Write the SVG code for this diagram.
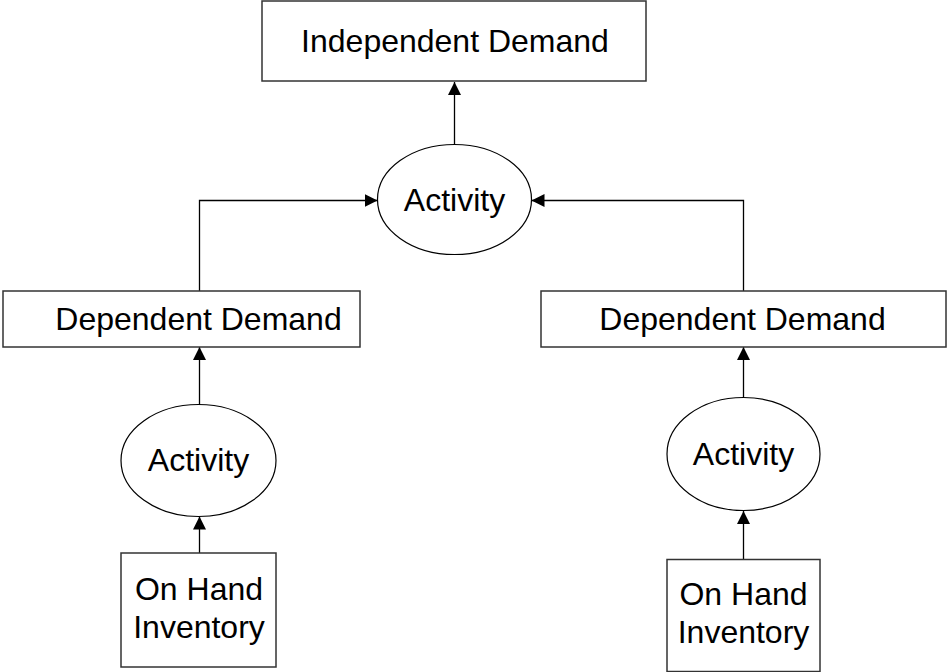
<svg xmlns="http://www.w3.org/2000/svg" width="947" height="672" viewBox="0 0 947 672">
<style>
.box{fill:#fff;stroke:#333;stroke-width:1.5}
.ell{fill:#fff;stroke:#000;stroke-width:1.2}
.lbl{font-family:"Liberation Sans",Arial,sans-serif;font-size:32px;fill:#000;text-anchor:middle}
.con{fill:none;stroke:#000;stroke-width:1.3}
</style>
<defs>
<marker id="ah" viewBox="0 0 13 13" refX="13" refY="6.5" markerWidth="13" markerHeight="13" markerUnits="userSpaceOnUse" orient="auto">
<path d="M0,0 L13,6.5 L0,13 Z" fill="#000"/>
</marker>
</defs>
<g id="connectors">
<path class="con" d="M454.5,144 L454.5,82" marker-end="url(#ah)"/>
<path class="con" d="M199.5,291 L199.5,200.5 L377.5,200.5" marker-end="url(#ah)"/>
<path class="con" d="M743.5,291 L743.5,200.5 L531.5,200.5" marker-end="url(#ah)"/>
<path class="con" d="M199.5,404 L199.5,347" marker-end="url(#ah)"/>
<path class="con" d="M199.5,553 L199.5,516.5" marker-end="url(#ah)"/>
<path class="con" d="M743.5,397.5 L743.5,347" marker-end="url(#ah)"/>
<path class="con" d="M743.5,559.5 L743.5,511" marker-end="url(#ah)"/>
</g>
<g id="independent-demand">
<rect class="box" x="262" y="1" width="384" height="80"/>
<text class="lbl" x="455" y="52">Independent Demand</text>
</g>
<g id="activity-top">
<ellipse class="ell" cx="454.5" cy="199.5" rx="77" ry="55"/>
<text class="lbl" x="454.5" y="211">Activity</text>
</g>
<g id="dependent-demand-left">
<rect class="box" x="3" y="291" width="357" height="56"/>
<text class="lbl" x="198.5" y="330">Dependent Demand</text>
</g>
<g id="dependent-demand-right">
<rect class="box" x="541" y="291" width="405" height="56"/>
<text class="lbl" x="742.5" y="330">Dependent Demand</text>
</g>
<g id="activity-left">
<ellipse class="ell" cx="198.5" cy="460.5" rx="77.5" ry="56"/>
<text class="lbl" x="198.5" y="471">Activity</text>
</g>
<g id="activity-right">
<ellipse class="ell" cx="743.5" cy="454" rx="76.5" ry="56.5"/>
<text class="lbl" x="743.5" y="465">Activity</text>
</g>
<g id="on-hand-left">
<rect class="box" x="121" y="553" width="155" height="114"/>
<text class="lbl" x="199" y="600">On Hand</text>
<text class="lbl" x="199" y="638">Inventory</text>
</g>
<g id="on-hand-right">
<rect class="box" x="667" y="559.5" width="153" height="112"/>
<text class="lbl" x="743.5" y="605">On Hand</text>
<text class="lbl" x="743.5" y="643">Inventory</text>
</g>
</svg>
